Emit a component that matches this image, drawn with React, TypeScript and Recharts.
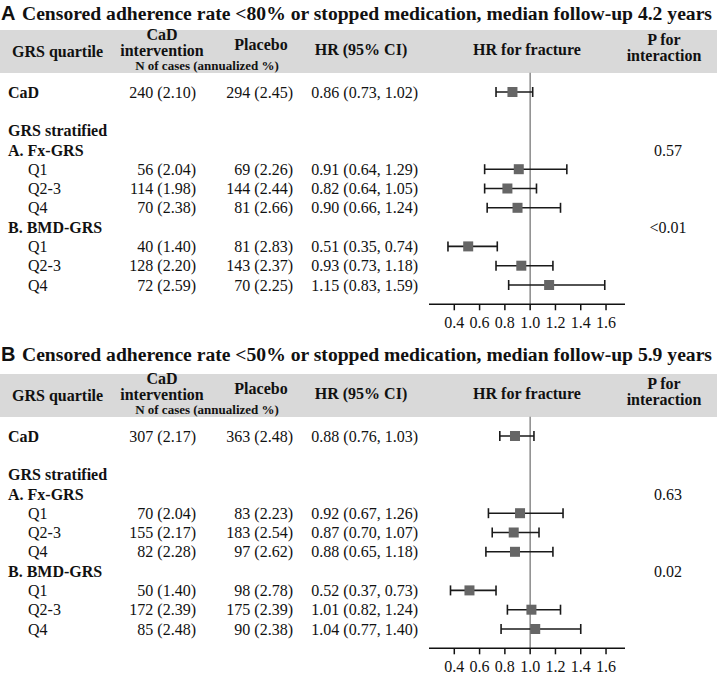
import React from 'react';
import { ScatterChart, Scatter, XAxis, YAxis, ErrorBar, ReferenceLine } from 'recharts';

const SERIF = "'Liberation Serif', 'Times New Roman', serif";
const SANS = "'Liberation Sans', Arial, sans-serif";

// row layout shared by both panels
const rowLabels = ['CaD', '', 'GRS stratified', 'A. Fx-GRS', 'Q1', 'Q2-3', 'Q4', 'B. BMD-GRS', 'Q1', 'Q2-3', 'Q4'];
const boldRows = [true, false, true, true, false, false, false, true, false, false, false];
const estimateRows = [0, 4, 5, 6, 8, 9, 10];
const pRows = [3, 7];
const rowTicks = [0, 1, 2, 3, 4, 5, 6, 7, 8, 9, 10];
const xTicks = [0.4, 0.6, 0.8, 1.0, 1.2, 1.4, 1.6];

// Panel A
const titleA = 'Censored adherence rate <80% or stopped medication, median follow-up 4.2 years';
const casesCaDA = [240, 56, 114, 70, 40, 128, 72];
const pctCaDA = [2.10, 2.04, 1.98, 2.38, 1.40, 2.20, 2.59];
const casesPlaA = [294, 69, 144, 81, 81, 143, 70];
const pctPlaA = [2.45, 2.26, 2.44, 2.66, 2.83, 2.37, 2.25];
const hrA = [0.86, 0.91, 0.82, 0.90, 0.51, 0.93, 1.15];
const lowA = [0.73, 0.64, 0.64, 0.66, 0.35, 0.73, 0.83];
const highA = [1.02, 1.29, 1.05, 1.24, 0.74, 1.18, 1.59];
const pA = ['0.57', '<0.01'];

// Panel B
const titleB = 'Censored adherence rate <50% or stopped medication, median follow-up 5.9 years';
const casesCaDB = [307, 70, 155, 82, 50, 172, 85];
const pctCaDB = [2.17, 2.04, 2.17, 2.28, 1.40, 2.39, 2.48];
const casesPlaB = [363, 83, 183, 97, 98, 175, 90];
const pctPlaB = [2.48, 2.23, 2.54, 2.62, 2.78, 2.39, 2.38];
const hrB = [0.88, 0.92, 0.87, 0.88, 0.52, 1.01, 1.04];
const lowB = [0.76, 0.67, 0.70, 0.65, 0.37, 0.82, 0.77];
const highB = [1.03, 1.26, 1.07, 1.18, 0.73, 1.24, 1.40];
const pB = ['0.63', '0.02'];

const W = 717;
const H = 331;

type PanelProps = {
  letter: string;
  title: string;
  titleY: number;
  casesCaD: number[];
  pctCaD: number[];
  casesPla: number[];
  pctPla: number[];
  hr: number[];
  low: number[];
  high: number[];
  pvals: string[];
};

const Square = (props: any) => {
  const { cx, cy } = props;
  if (cx == null || cy == null) return null;
  return <rect x={cx - 5} y={cy - 5} width={10} height={10} fill="#666666" />;
};

const Panel: React.FC<PanelProps> = (p) => {
  const points = estimateRows.map((row, k) => ({
    x: p.hr[k],
    y: row,
    err: [p.hr[k] - p.low[k], p.high[k] - p.hr[k]],
  }));

  // each y tick draws the whole table row at that row's position
  const RowTick = (props: any) => {
    const { y, payload } = props;
    const i = payload.value as number;
    const k = estimateRows.indexOf(i);
    const pk = pRows.indexOf(i);
    return (
      <g fontFamily={SERIF} fontSize={16} fill="#111">
        <text x={boldRows[i] ? 8 : 28} y={y} dy="0.35em" fontWeight={boldRows[i] ? 700 : 400}>
          {rowLabels[i]}
        </text>
        {k >= 0 && (
          <>
            <text x={196} y={y} dy="0.35em" textAnchor="end">
              {`${p.casesCaD[k]} (${p.pctCaD[k].toFixed(2)})`}
            </text>
            <text x={293} y={y} dy="0.35em" textAnchor="end">
              {`${p.casesPla[k]} (${p.pctPla[k].toFixed(2)})`}
            </text>
            <text x={418} y={y} dy="0.35em" textAnchor="end">
              {`${p.hr[k].toFixed(2)} (${p.low[k].toFixed(2)}, ${p.high[k].toFixed(2)})`}
            </text>
          </>
        )}
        {pk >= 0 && (
          <text x={668} y={y} dy="0.35em" textAnchor="middle">
            {p.pvals[pk]}
          </text>
        )}
      </g>
    );
  };

  return (
    <div style={{ position: 'relative', width: W, height: H }}>
      <svg width={W} height={H} style={{ position: 'absolute', left: 0, top: 0 }}>
        <text x={1} y={p.titleY} fontFamily={SANS} fontWeight={700} fontSize={20} fill="#111">{p.letter}</text>
        <text x={22} y={p.titleY} fontFamily={SERIF} fontWeight={700} fontSize={18.5} fill="#111"
          textLength={690} lengthAdjust="spacingAndGlyphs">{p.title}</text>
        <rect x={0} y={30} width={W} height={43} fill="#d9d9d9" />
        <g fontFamily={SERIF} fontWeight={700} fontSize={16} fill="#111">
          <text x={12} y={57}>GRS quartile</text>
          <text x={162} y={40} textAnchor="middle">CaD</text>
          <text x={162} y={56} textAnchor="middle">intervention</text>
          <text x={261} y={50} textAnchor="middle">Placebo</text>
          <text x={361} y={55} textAnchor="middle">HR (95% CI)</text>
          <text x={527} y={55} textAnchor="middle">HR for fracture</text>
          <text x={664} y={45} textAnchor="middle">P for</text>
          <text x={664} y={61} textAnchor="middle">interaction</text>
          <text x={207} y={70} textAnchor="middle" fontSize={13}>N of cases (annualized %)</text>
        </g>
      </svg>
      <div style={{ position: 'absolute', left: 0, top: 0 }}>
        <ScatterChart width={W} height={H} margin={{ top: 72.7, right: 92, bottom: 6.7, left: 428 }}>
          <XAxis
            type="number"
            dataKey="x"
            domain={[0.2, 1.75]}
            allowDataOverflow
            ticks={xTicks}
            interval={0}
            height={20}
            tickFormatter={(v: number) => v.toFixed(1)}
            axisLine={{ stroke: '#111', strokeWidth: 1.5 }}
            tickLine={{ stroke: '#111', strokeWidth: 1.5 }}
            tickSize={6}
            tickMargin={6}
            tick={{ fill: '#111', fontSize: 16, fontFamily: SERIF }}
          />
          <YAxis
            type="number"
            dataKey="y"
            domain={[-1, 11]}
            allowDataOverflow
            reversed
            ticks={rowTicks}
            interval={0}
            width={1}
            axisLine={false}
            tickLine={false}
            tick={RowTick}
          />
          <ReferenceLine x={1} stroke="#8a8a8a" strokeWidth={1.5} />
          <Scatter data={points} shape={Square} isAnimationActive={false}>
            <ErrorBar dataKey="err" direction="x" width={5} stroke="#1a1a1a" strokeWidth={1.6} isAnimationActive={false} />
          </Scatter>
        </ScatterChart>
      </div>
    </div>
  );
}

export default function App() {
  return (
    <div style={{ width: W, background: '#fff' }}>
      <style>{'body{margin:0;}'}</style>
      <Panel letter="A" title={titleA} titleY={20} casesCaD={casesCaDA} pctCaD={pctCaDA} casesPla={casesPlaA}
        pctPla={pctPlaA} hr={hrA} low={lowA} high={highA} pvals={pA} />
      <div style={{ height: 13 }} />
      <Panel letter="B" title={titleB} titleY={17} casesCaD={casesCaDB} pctCaD={pctCaDB} casesPla={casesPlaB}
        pctPla={pctPlaB} hr={hrB} low={lowB} high={highB} pvals={pB} />
    </div>
  );
}
